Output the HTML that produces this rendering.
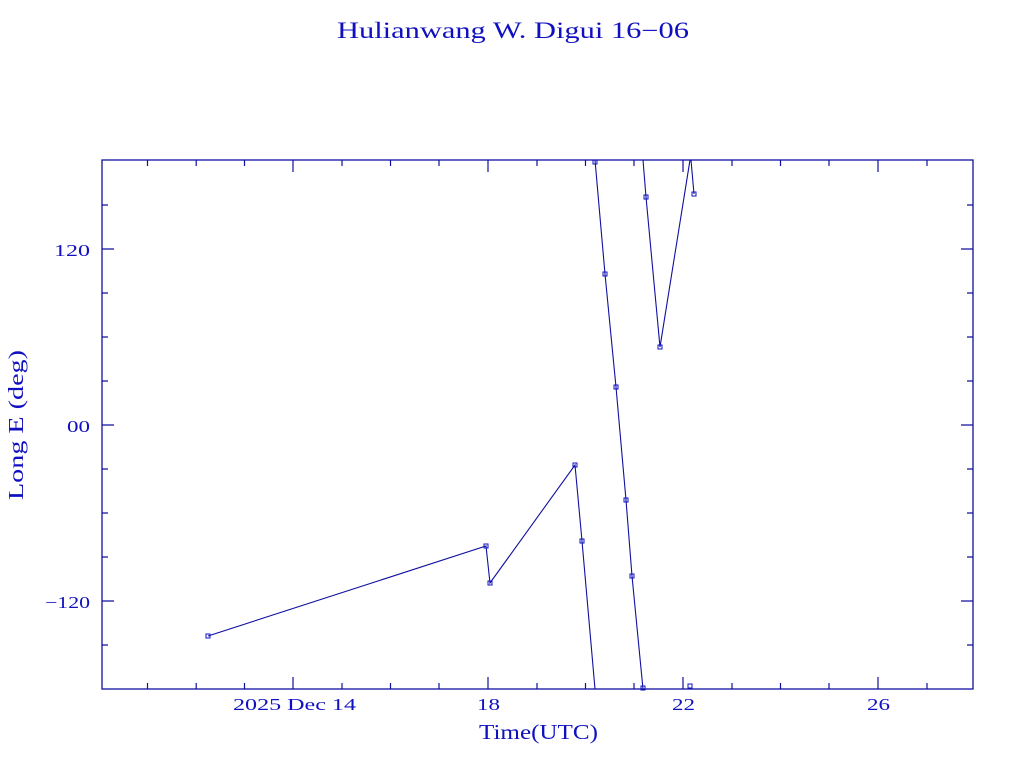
<!DOCTYPE html>
<html><head><meta charset="utf-8"><style>body{margin:0;background:#fff}svg{display:block}</style></head><body>
<svg width="1024" height="768" xmlns="http://www.w3.org/2000/svg" font-family="Liberation Serif, serif" fill="#1010c0">
<text x="337" y="38" font-size="23" textLength="352" lengthAdjust="spacingAndGlyphs">Hulianwang W. Digui 16−06</text>
<rect x="102" y="160" width="871" height="529" fill="none" stroke="#1010a0" stroke-width="1.3"/>
<g stroke="#1010a0" stroke-width="1.2">
<path d="M147.5 689v-6M147.5 160v6M196.2 689v-6M196.2 160v6M244.5 689v-6M244.5 160v6M293 689v-12M293 160v12M342 689v-6M342 160v6M390.5 689v-6M390.5 160v6M439 689v-6M439 160v6M488 689v-12M488 160v12M537 689v-6M537 160v6M585.5 689v-6M585.5 160v6M634 689v-6M634 160v6M683 689v-12M683 160v12M732 689v-6M732 160v6M780.5 689v-6M780.5 160v6M829 689v-6M829 160v6M878 689v-12M878 160v12M927 689v-6M927 160v6"/>
<path d="M102 205h6M973 205h-6M102 249h12M973 249h-12M102 293h6M973 293h-6M102 337h6M973 337h-6M102 381h6M973 381h-6M102 425h12M973 425h-12M102 469h6M973 469h-6M102 513h6M973 513h-6M102 557h6M973 557h-6M102 601h12M973 601h-12M102 645h6M973 645h-6"/>
</g>
<g fill="none" stroke="#1010a0" stroke-width="1.1">
<polyline points="208,636 486,546 490,583 575,465 582,541 595,689"/>
<polyline points="595,160 605,274 616,387 626,500 632,576 643,689"/>
<polyline points="643,160 646,197 660,347 690,160"/>
<polyline points="691,160 694,194"/>
</g>
<g fill="none" stroke="#1010c0" stroke-width="1">
<rect x="206" y="634" width="4" height="4"/><rect x="484" y="544" width="4" height="4"/><rect x="488" y="581" width="4" height="4"/><rect x="573" y="463" width="4" height="4"/><rect x="580" y="539" width="4" height="4"/><rect x="593" y="160" width="4" height="4"/><rect x="603" y="272" width="4" height="4"/><rect x="614" y="385" width="4" height="4"/><rect x="624" y="498" width="4" height="4"/><rect x="630" y="574" width="4" height="4"/><rect x="641" y="686" width="4" height="4"/><rect x="644" y="195" width="4" height="4"/><rect x="658" y="345" width="4" height="4"/><rect x="692" y="192" width="4" height="4"/><rect x="688" y="684" width="4" height="4"/>
</g>
<g font-size="17">
<text x="54" y="256" textLength="36" lengthAdjust="spacingAndGlyphs">120</text>
<text x="67" y="432" textLength="23" lengthAdjust="spacingAndGlyphs">00</text>
<text x="45" y="608" textLength="45" lengthAdjust="spacingAndGlyphs">−120</text>
<text x="233" y="710" textLength="123" lengthAdjust="spacingAndGlyphs">2025 Dec 14</text>
<text x="477" y="710" textLength="23" lengthAdjust="spacingAndGlyphs">18</text>
<text x="672" y="710" textLength="23" lengthAdjust="spacingAndGlyphs">22</text>
<text x="867" y="710" textLength="23" lengthAdjust="spacingAndGlyphs">26</text>
</g>
<text x="479" y="739" font-size="21" textLength="119" lengthAdjust="spacingAndGlyphs">Time(UTC)</text>
<text transform="translate(23,500) rotate(-90)" font-size="21" textLength="150" lengthAdjust="spacingAndGlyphs">Long E (deg)</text>
</svg>
</body></html>
